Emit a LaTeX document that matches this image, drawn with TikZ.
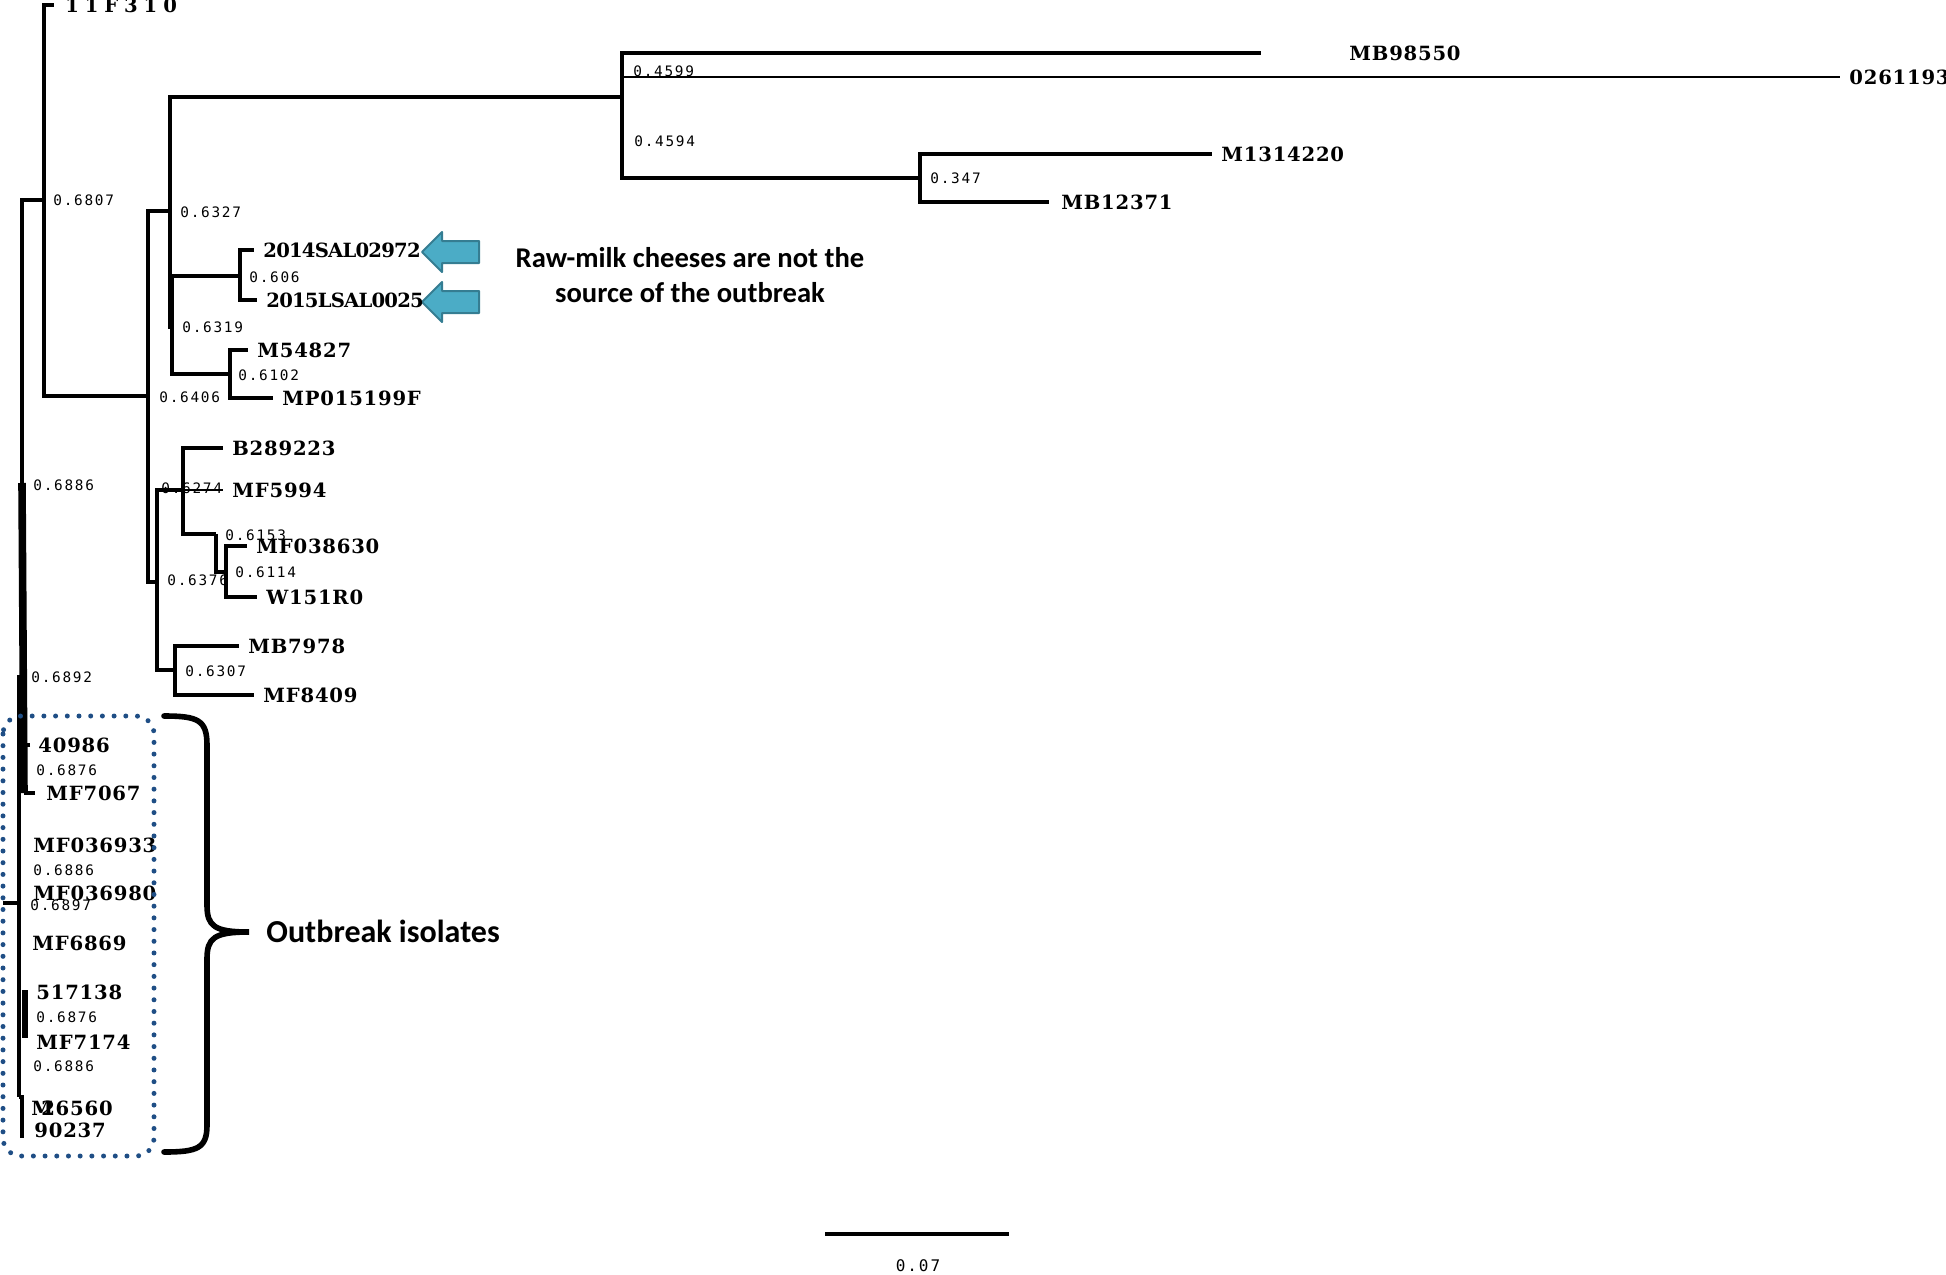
\documentclass[tikz,border=0pt]{standalone}
\usepackage{fontspec}
\usepackage{tikz}
\usetikzlibrary{positioning}
\newfontfamily\leaffont[LetterSpace=4]{DejaVu Serif}
\newfontfamily\supportfont[LetterSpace=12]{DejaVu Sans Mono}
\newfontfamily\notefont{Carlito}
\definecolor{CheeseBlue}{HTML}{4BACC6}
\definecolor{CheeseEdge}{HTML}{357D92}
\definecolor{OutBlue}{HTML}{1F4E85}

\begin{document}
\begin{tikzpicture}[
  x=0.5pt, y=-0.5pt,
  node distance=4.5pt,
  branch/.style={line width=1.8pt},
  thinbranch/.style={line width=0.8pt},
  heavybranch/.style={line width=3.8pt},
  leaf/.style={font=\leaffont\bfseries\fontsize{9.8}{11}\selectfont, inner sep=0pt, anchor=west},
  support/.style={font=\supportfont\fontsize{7.2}{8}\selectfont, inner sep=0pt, anchor=west},
  note/.style={font=\notefont\bfseries\fontsize{14.3}{17.5}\selectfont, align=center, inner sep=0pt},
  cheesearrow/.style={fill=CheeseBlue, draw=CheeseEdge, line width=1pt, line join=round},
  outframe/.style={draw=OutBlue, line width=2.5pt, dash pattern=on 0pt off 5.85pt, line cap=round, rounded corners=9pt},
  bracket/.style={line width=2.8pt, line cap=round},
  scalebar/.style={line width=2pt}
]
\useasboundingbox (0,0) rectangle (1946,1274);

% internal nodes of the tree
\coordinate (rootstub) at (3,903);
\coordinate (n6897) at (18,903);
\coordinate (n6892) at (19,675);
\coordinate (n6886a) at (22,483);
\coordinate (n6807) at (44,200);
\coordinate (n6406) at (148,396);
\coordinate (n6327) at (170,211);
\coordinate (n6319) at (172,327);
\coordinate (n606) at (240,276);
\coordinate (n6102) at (230,374);
\coordinate (n4594) at (622,97);
\coordinate (n4599) at (624,77);
\coordinate (n347) at (920,178);
\coordinate (n6376) at (157,582);
\coordinate (n6274) at (183,490);
\coordinate (n6153) at (216,534);
\coordinate (n6114) at (226,572);
\coordinate (n6307) at (175,670);
\coordinate (n6876a) at (24,793);
\coordinate (n6876b) at (25,990);
\coordinate (n6876c) at (25,1038);
\coordinate (n6886c) at (19,1097);

% leaf tips
\coordinate (t11F310) at (54,5);
\coordinate (tMB98550) at (1261,53);
\coordinate (t0261193) at (1840,77);
\coordinate (tM1314220) at (1212,154);
\coordinate (tMB12371) at (1049,202);
\coordinate (t2014) at (254,250);
\coordinate (t2015) at (257,300);
\coordinate (tM54827) at (248,350);
\coordinate (tMP015199F) at (273,398);
\coordinate (tB289223) at (223,448);
\coordinate (tMF5994) at (223,490);
\coordinate (tMF038630) at (247,546);
\coordinate (tW151R0) at (257,597);
\coordinate (tMB7978) at (239,646);
\coordinate (tMF8409) at (254,695);
\coordinate (t40986) at (30,745);
\coordinate (tMF7067) at (35,793);
\coordinate (tM26560) at (22,1138);

% branches
\draw[branch] (n6886a) |- (n6807);
\draw[branch] (n6807) |- (t11F310);
\draw[branch] (n6807) |- (n6406);
\draw[branch] (n6406) |- (n6327);
\draw[branch] (n6406) |- (n6376);
\draw[branch] (n6327) |- (n4594);
\draw[branch] (n6327) |- (n6319);
\draw[branch] (n6319) |- (n606);
\draw[branch] (n6319) |- (n6102);
\draw[branch] (n606) |- (t2014);
\draw[branch] (n606) |- (t2015);
\draw[branch] (n6102) |- (tM54827);
\draw[branch] (n6102) |- (tMP015199F);
\draw[branch] (n4594) |- (tMB98550);
\draw[branch] (n4594) |- (n347);
\draw[thinbranch] (n4599) -- (t0261193);
\draw[branch] (n347) |- (tM1314220);
\draw[branch] (n347) |- (tMB12371);
\draw[branch] (n6376) |- (n6274);
\draw[branch] (n6376) |- (n6307);
\draw[branch] (n6274) |- (tB289223);
\draw[thinbranch] (n6274) -- (tMF5994);
\draw[branch] (n6274) |- (n6153);
\draw[branch] (n6153) |- (n6114);
\draw[branch] (n6114) |- (tMF038630);
\draw[branch] (n6114) |- (tW151R0);
\draw[branch] (n6307) |- (tMB7978);
\draw[branch] (n6307) |- (tMF8409);

% outbreak clade
\draw[branch] (rootstub) -- (n6897);
\draw[branch, line width=2.2pt] (n6892) -- (n6886c);
\draw[heavybranch] (n6886a) -- (n6876a);
\draw[branch] (n6876a) -- (tMF7067);
\draw[branch] (t40986) -- ++(-6,0);
\draw[heavybranch, line width=3pt] (n6876b) -- (n6876c);
\draw[branch] (n6886c) -| (tM26560);

% cheese arrows and note
\coordinate (arr2014) at (422,252);
\coordinate (arr2015) at (422,302);
\draw[cheesearrow] (arr2014) -- ++(20,-20) -- ++(0,9) -- ++(37,0) -- ++(0,22) -- ++(-37,0) -- ++(0,9) -- cycle;
\draw[cheesearrow] (arr2015) -- ++(20,-20) -- ++(0,9) -- ++(37,0) -- ++(0,22) -- ++(-37,0) -- ++(0,9) -- cycle;
\node[note] (rawnote) at (690,275) {Raw-milk cheeses are not the\\source of the outbreak};

% leaf labels
\node[leaf, right=5.5pt of t11F310] (l11F310) {\addfontfeature{LetterSpace=30}11F310};
\node[leaf, right=44pt of tMB98550] (lMB98550) {MB98550};
\node[leaf, right=of t0261193] (l0261193) {0261193};
\node[leaf, right=of tM1314220] (lM1314220) {M1314220};
\node[leaf, right=6pt of tMB12371] (lMB12371) {MB12371};
\node[leaf, right=of t2014] (l2014) {\addfontfeature{LetterSpace=-4}2014SAL02972};
\node[leaf, right=of t2015] (l2015) {\addfontfeature{LetterSpace=-4}2015LSAL0025};
\node[leaf, right=of tM54827] (lM54827) {M54827};
\node[leaf, right=of tMP015199F] (lMP015199F) {MP015199F};
\node[leaf, right=of tB289223] (lB289223) {B289223};
\node[leaf, right=of tMF5994] (lMF5994) {MF5994};
\node[leaf, right=of tMF038630] (lMF038630) {MF038630};
\node[leaf, right=of tW151R0] (lW151R0) {W151R0};
\node[leaf, right=of tMB7978] (lMB7978) {MB7978};
\node[leaf, right=of tMF8409] (lMF8409) {MF8409};
\node[leaf] (l40986) at (38,745) {40986};
\node[leaf] (lMF7067) at (46,793) {MF7067};
\node[leaf] (lMF036933) at (33,845) {MF036933};
\node[leaf] (lMF036980) at (33,893) {MF036980};
\node[leaf] (lMF6869) at (32,943) {MF6869};
\node[leaf] (l517138) at (36,992) {517138};
\node[leaf] (lMF7174) at (36,1042) {MF7174};
\node[leaf] (lM26560) at (31,1108) {M\kern-.6em26560};
\node[leaf] (l90237) at (34,1130) {90237};

% support values
\node[support] (s6807) at (53,200) {0.6807};
\node[support] (s6327) at (180,212) {0.6327};
\node[support] (s6319) at (182,327) {0.6319};
\node[support] (s6406) at (159,397) {0.6406};
\node[support] (s606) at (249,277) {0.606};
\node[support] (s6102) at (238,375) {0.6102};
\node[support] (s4599) at (633,71) {0.4599};
\node[support] (s4594) at (634,141) {0.4594};
\node[support] (s347) at (930,178) {0.347};
\node[support] (s6886a) at (33,485) {0.6886};
\node[support] (s6274) at (161,488) {0.6274};
\node[support] (s6153) at (225,535) {0.6153};
\node[support] (s6114) at (235,572) {0.6114};
\node[support] (s6376) at (167,580) {0.6376};
\node[support] (s6307) at (185,671) {0.6307};
\node[support] (s6892) at (31,677) {0.6892};
\node[support] (s6876a) at (36,770) {0.6876};
\node[support] (s6886b) at (33,870) {0.6886};
\node[support] (s6897) at (30,905) {0.6897};
\node[support] (s6876b) at (36,1017) {0.6876};
\node[support] (s6886c) at (33,1066) {0.6886};

% outbreak frame and brace
\draw[outframe] (3,716) rectangle (154,1156);
\coordinate (braceTop) at (164,716);
\coordinate (braceTip) at (249,932);
\coordinate (braceBot) at (164,1152);
\draw[bracket] (braceTop) .. controls (198,716) and (207,720) .. (207,745) -- (207,905)
  .. controls (207,926) and (214,932) .. (braceTip)
  .. controls (214,932) and (207,938) .. (207,959) -- (207,1125)
  .. controls (207,1148) and (198,1152) .. (braceBot);
\node[note, anchor=west, font=\notefont\bfseries\fontsize{16}{19}\selectfont] (outnote) at (266,931) {Outbreak isolates};

% scale bar
\coordinate (scaleL) at (825,1234);
\coordinate (scaleR) at (1009,1234);
\draw[scalebar] (scaleL) -- (scaleR);
\node[support, anchor=center, font=\supportfont\fontsize{8}{9}\selectfont] (scaletext) at (918,1266) {0.07};
\end{tikzpicture}
\end{document}
